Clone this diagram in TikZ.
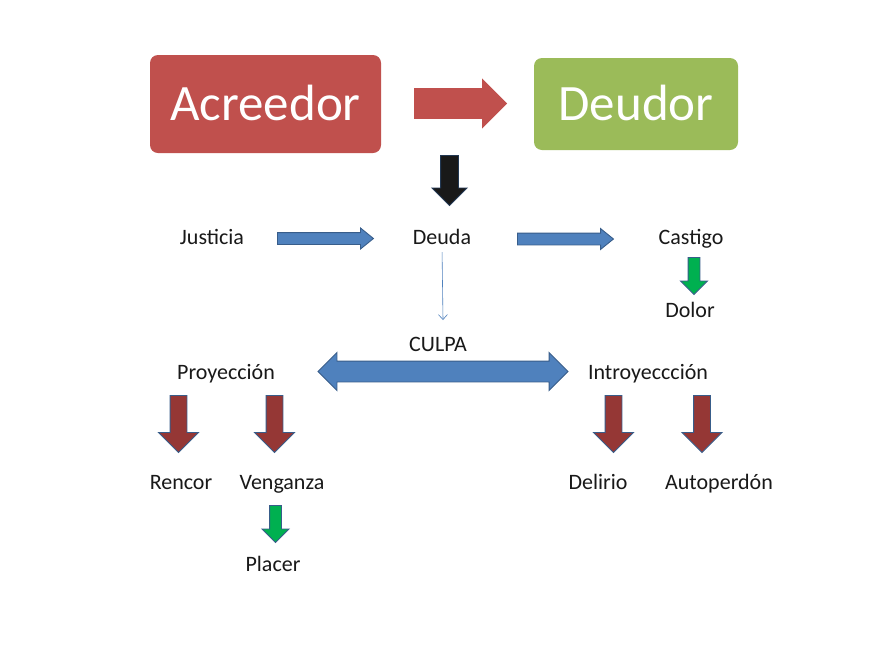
\documentclass[tikz,border=0pt]{standalone}
\usepackage{fontspec}
\setmainfont{Carlito}
\usetikzlibrary{shapes.arrows,arrows.meta}
\definecolor{boxred}{HTML}{C0504D}
\definecolor{boxgreen}{HTML}{9BBB59}
\definecolor{arrowblue}{HTML}{4F81BD}
\definecolor{edgeblue}{HTML}{385D8A}
\definecolor{darkred}{HTML}{953735}
\definecolor{brightgreen}{HTML}{00B050}
\begin{document}
\begin{tikzpicture}[x=1pt,y=-1pt,
  lbl/.style={anchor=base,text=black!90,font=\fontsize{22}{26}\selectfont},
  bigbox/.style={rounded corners=8pt,text=white,font=\fontsize{51}{60}\selectfont,
    text height=33pt,text depth=0pt,inner sep=0pt},
  blk/.style={single arrow,anchor=tail,inner xsep=0pt,line width=0.9pt,draw=edgeblue},
  pointdown/.style={rotate=-90},
  redright/.style={blk,fill=boxred,draw=boxred,inner ysep=14.5pt,
    single arrow head extend=9pt,minimum height=92pt},
  blackdown/.style={blk,pointdown,fill=black!90,draw=edgeblue!60!black,inner ysep=8.5pt,
    single arrow head extend=8.5pt,minimum height=50pt},
  blueright/.style={blk,fill=arrowblue,inner ysep=5.5pt,single arrow tip angle=78,
    single arrow head extend=4.5pt,minimum height=96pt},
  greendown/.style={blk,pointdown,fill=brightgreen,inner ysep=5.5pt,
    single arrow head extend=7.5pt,minimum height=37pt},
  reddown/.style={blk,pointdown,fill=darkred,inner ysep=8pt,
    single arrow head extend=11.5pt,minimum height=57pt},
  thinarrow/.style={-{Straight Barb[length=5pt,width=9pt,line width=0.6pt]},
    draw=arrowblue,line width=0.6pt}]
\useasboundingbox (0,0) rectangle (872,654);
\fill[white] (0,0) rectangle (872,654);

% top boxes
\node[bigbox,fill=boxred,minimum width=231pt,minimum height=98pt] (acreedor) at (265.5,104) {Acreedor};
\node[bigbox,fill=boxgreen,minimum width=204pt,minimum height=92pt] (deudor) at (636,104) {Deudor};
\node[redright] (a0) at (414,103.5) {};
\node[blackdown] (a1) at (449.5,155) {};

% second row
\node[lbl] (justicia) at (212,244.5) {Justicia};
\node[lbl] (deuda) at (442,244.5) {Deuda};
\node[lbl] (castigo) at (691,244.5) {Castigo};
\node[blueright] (a2) at (277,238.5) {};
\node[blueright] (a3) at (517,239) {};
\node[greendown] (a4) at (694,257) {};
\node[lbl] (dolor) at (690,317.5) {Dolor};

\coordinate (culpatop) at (443,320);
\draw[thinarrow,shorten <=4pt] (deuda.south) -- (culpatop);

% culpa
\node[lbl] (culpa) at (438,351.5) {CULPA};
\node[double arrow,inner xsep=0pt,inner ysep=10pt,double arrow head extend=8.5pt,
  minimum height=250pt,fill=arrowblue,draw=edgeblue,line width=0.9pt] (a5) at (443,371.5) {};
\node[lbl] (proyeccion) at (226,379.5) {Proyección};
\node[lbl] (introyeccion) at (648,379.5) {Introyeccción};

\node[reddown] (a6) at (178.5,395) {};
\node[reddown] (a7) at (274.5,395) {};
\node[reddown] (a8) at (613.5,395) {};
\node[reddown] (a9) at (702,395) {};

\node[lbl] (rencor) at (181,489.5) {Rencor};
\node[lbl] (venganza) at (282,489.5) {Venganza};
\node[lbl] (delirio) at (598,489.5) {Delirio};
\node[lbl] (autoperdon) at (719,489.5) {Autoperdón};

\node[greendown] (a10) at (275.5,505) {};
\node[lbl] (placer) at (273,571.5) {Placer};
\end{tikzpicture}
\end{document}
